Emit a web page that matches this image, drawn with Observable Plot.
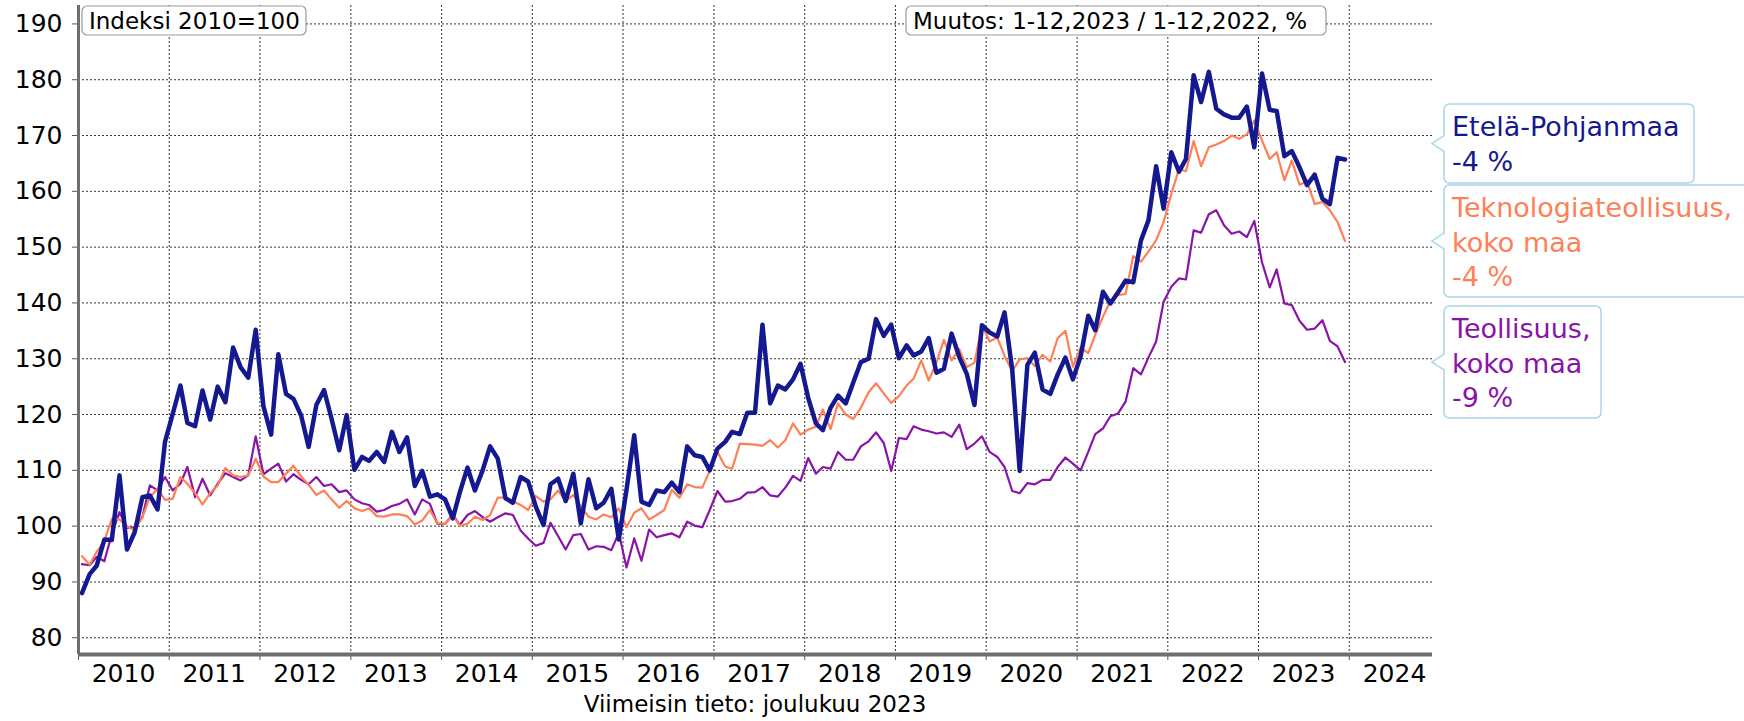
<!DOCTYPE html>
<html><head><meta charset="utf-8">
<script src="https://cdn.jsdelivr.net/npm/d3@7"></script>
<script src="https://cdn.jsdelivr.net/npm/@observablehq/plot@0.6"></script>
<style>
body{margin:0;background:#fff;font-family:"DejaVu Sans",Verdana,sans-serif}
#chart svg{display:block}
</style>
</head><body><div id="chart"></div><script>
// ---- data (monthly index, 2010 = 100), Jan 2010 .. Dec 2023 ----
const startYear = 2010;
const etelaPohjanmaa = [
  88.0, 91.4, 92.9, 97.6, 97.5, 109.1, 95.8, 98.9, 105.2, 105.5, 103.0, 115.1,
  120.1, 125.2, 118.5, 117.9, 124.3, 119.1, 125.0, 122.2, 132.0, 128.5, 126.6, 135.2,
  121.5, 116.4, 130.8, 123.7, 122.8, 119.8, 114.2, 121.7, 124.4, 119.3, 113.6, 119.9,
  110.1, 112.4, 111.7, 113.3, 111.5, 116.9, 113.3, 115.9, 107.2, 109.9, 105.3, 105.7,
  104.8, 101.4, 106.0, 110.5, 106.4, 110.0, 114.3, 112.1, 105.0, 104.2, 108.8, 108.0,
  103.5, 100.2, 107.5, 108.5, 104.5, 109.4, 100.5, 108.4, 103.2, 104.2, 106.7, 97.6,
  106.5, 116.3, 104.4, 103.8, 106.4, 106.1, 107.8, 106.1, 114.3, 112.7, 112.4, 110.0,
  113.9, 115.1, 116.9, 116.5, 120.3, 120.3, 136.1, 122.0, 125.2, 124.5, 126.3, 129.1,
  123.0, 118.4, 117.2, 121.2, 123.4, 122.0, 125.7, 129.4, 130.0, 137.1, 134.1, 136.1,
  130.1, 132.4, 130.6, 131.3, 133.7, 127.5, 128.2, 134.5, 130.3, 127.3, 121.7, 136.0,
  134.7, 134.0, 138.3, 128.0, 109.9, 128.9, 131.1, 124.5, 123.7, 127.2, 130.2, 126.3,
  130.4, 137.7, 135.1, 142.0, 139.9, 141.9, 144.0, 143.7, 151.2, 154.8, 164.5, 156.9,
  167.0, 163.5, 165.8, 180.8, 176.0, 181.4, 174.8, 173.8, 173.2, 173.2, 175.2, 167.9,
  181.1, 174.6, 174.4, 166.3, 167.2, 164.3, 161.1, 163.0, 158.7, 157.7, 166.0, 165.7
];
const teknologiateollisuus = [
  94.6, 93.1, 95.4, 97.3, 101.3, 101.2, 99.9, 99.3, 101.6, 105.2, 106.7, 104.7,
  104.9, 108.8, 107.6, 105.9, 103.9, 105.9, 107.3, 110.4, 109.1, 108.8, 109.1, 112.1,
  108.9, 107.9, 107.9, 109.4, 110.8, 108.9, 107.4, 105.6, 106.4, 104.8, 103.3, 104.5,
  103.2, 102.7, 103.2, 101.8, 101.7, 102.1, 102.1, 101.8, 100.3, 101.0, 102.9, 100.5,
  100.4, 102.0, 100.1, 100.4, 101.7, 101.1, 102.0, 105.1, 105.1, 104.5, 103.8, 102.9,
  105.4, 104.4, 104.8, 106.4, 104.5, 105.6, 103.6, 101.7, 101.2, 102.1, 101.6, 103.2,
  99.8, 102.4, 103.2, 101.2, 102.0, 102.9, 106.5, 105.1, 107.5, 107.0, 106.9, 109.9,
  113.3, 110.7, 110.3, 114.8, 114.7, 114.6, 114.4, 115.4, 114.1, 115.4, 118.4, 116.4,
  117.3, 117.8, 120.9, 117.4, 122.0, 120.0, 119.2, 121.2, 124.0, 125.6, 123.8, 122.1,
  123.3, 125.2, 126.4, 129.7, 126.1, 129.3, 133.4, 129.7, 131.7, 128.5, 129.3, 136.0,
  133.1, 133.8, 130.5, 127.8, 129.9, 130.1, 128.7, 130.7, 129.5, 133.7, 135.0, 128.6,
  132.0, 131.0, 134.3, 137.5, 140.4, 141.4, 141.6, 148.4, 147.4, 149.2, 151.2, 154.5,
  159.5, 164.0, 163.6, 169.0, 164.5, 167.9, 168.4, 169.0, 170.0, 169.4, 170.2, 172.7,
  169.1, 165.8, 167.0, 162.0, 165.5, 161.2, 161.8, 157.7, 158.1, 156.6, 154.5, 151.1
];
const teollisuus = [
  93.2, 93.0, 94.5, 93.7, 98.6, 102.5, 99.7, 99.8, 101.6, 107.3, 106.4, 108.8,
  106.4, 107.6, 110.6, 105.2, 108.5, 105.5, 107.6, 109.5, 108.8, 108.2, 109.1, 116.1,
  109.3, 110.3, 111.2, 108.0, 109.3, 108.3, 107.5, 108.8, 107.2, 107.5, 106.1, 106.4,
  104.8, 104.1, 103.8, 102.6, 102.9, 103.6, 104.0, 104.8, 102.1, 104.8, 104.0, 100.4,
  100.4, 102.1, 100.2, 102.0, 102.7, 101.6, 100.8, 101.6, 102.3, 102.0, 99.2, 97.8,
  96.5, 97.0, 100.6, 98.2, 95.8, 98.4, 98.6, 95.8, 96.4, 96.3, 95.7, 98.8,
  92.6, 97.8, 93.8, 99.4, 98.0, 98.4, 98.7, 98.0, 100.8, 100.1, 99.8, 102.9,
  106.3, 104.4, 104.5, 104.9, 106.0, 106.1, 107.0, 105.5, 105.3, 106.9, 109.0, 108.1,
  112.2, 109.4, 110.6, 110.3, 113.3, 111.9, 111.9, 114.3, 115.2, 116.8, 114.9, 109.9,
  115.8, 115.6, 117.9, 117.3, 117.0, 116.6, 116.8, 116.0, 118.2, 113.8, 114.8, 116.1,
  113.3, 112.4, 110.6, 106.3, 105.9, 107.7, 107.5, 108.3, 108.3, 110.6, 112.3, 111.2,
  110.0, 113.3, 116.5, 117.5, 119.7, 120.2, 122.3, 128.3, 127.2, 130.2, 133.1, 140.2,
  142.9, 144.4, 144.2, 153.0, 152.6, 155.9, 156.6, 153.9, 152.4, 152.8, 151.8, 154.7,
  147.3, 142.8, 146.0, 139.9, 139.6, 136.8, 135.2, 135.4, 136.9, 133.2, 132.2, 129.4
];
const yearLabels = [2010, 2011, 2012, 2013, 2014, 2015, 2016, 2017, 2018, 2019, 2020, 2021, 2022, 2023, 2024];
const yTicks = [80, 90, 100, 110, 120, 130, 140, 150, 160, 170, 180, 190];
const seriesNames = ["Etelä-Pohjanmaa", "Teknologiateollisuus, koko maa", "Teollisuus, koko maa"];
const seriesColors = ["#15198f", "#ff7f56", "#8a14a8"];
const legendLines = [
  ["Etelä-Pohjanmaa", "-4 %"],
  ["Teknologiateollisuus,", "koko maa", "-4 %"],
  ["Teollisuus,", "koko maa", "-9 %"]
];
const boxIndex = "Indeksi 2010=100";
const boxChange = "Muutos: 1-12,2023 / 1-12,2022, %";
const caption = "Viimeisin tieto: joulukuu 2023";

// ---- table for Plot ----
const allSeries = [etelaPohjanmaa, teknologiateollisuus, teollisuus];
const rows = [];
allSeries.forEach((vals, s) => vals.forEach((v, i) => rows.push({
  date: new Date(Date.UTC(startYear, i, 15)), value: v, series: seriesNames[s]
})));
const yearStarts = yearLabels.map(y => new Date(Date.UTC(y, 0, 1)));
const yearMids = yearLabels.map(y => new Date(Date.UTC(y, 6, 1)));
const xDomain = [new Date(Date.UTC(startYear, 0, 1)), new Date(Date.UTC(2024, 11, 1))];
const yDomain = [77, 193.3];

const W = 1744, H = 721, mL = 78, mR = 312, mT = 5, mB = 67;
const font = '"DejaVu Sans", Verdana, sans-serif';

const plot = Plot.plot({
  width: W, height: H,
  marginLeft: mL, marginRight: mR, marginTop: mT, marginBottom: mB,
  style: {fontFamily: font, fontSize: "25px", color: "#000", background: "#fff", overflow: "visible"},
  x: {type: "utc", domain: xDomain},
  y: {domain: yDomain},
  marks: [
    Plot.gridY(yTicks, {stroke: "#000", strokeOpacity: 0.8, strokeDasharray: "2,2", strokeWidth: 1}),
    Plot.gridX(yearStarts.slice(1), {stroke: "#000", strokeOpacity: 0.8, strokeDasharray: "2,2", strokeWidth: 1}),
    Plot.line(rows.filter(d => d.series === seriesNames[2]), {x: "date", y: "value", stroke: seriesColors[2], strokeWidth: 2.2}),
    Plot.line(rows.filter(d => d.series === seriesNames[1]), {x: "date", y: "value", stroke: seriesColors[1], strokeWidth: 2.2}),
    Plot.line(rows.filter(d => d.series === seriesNames[0]), {x: "date", y: "value", stroke: seriesColors[0], strokeWidth: 4.5}),
    Plot.axisY(yTicks, {label: null, tickSize: 6, tickPadding: 10, fontSize: 25, stroke: "#555"}),
    Plot.axisX(yearStarts, {label: null, tickSize: 6, tickFormat: () => "", stroke: "#555"}),
    Plot.axisX(yearMids, {label: null, tickSize: 0, tickPadding: 10, fontSize: 25, tickFormat: d => String(d.getUTCFullYear())}),
    Plot.ruleX([xDomain[0]], {stroke: "#6e6e6e", strokeWidth: 3}),
    Plot.ruleY([yDomain[0]], {stroke: "#6e6e6e", strokeWidth: 4})
  ]
});
document.getElementById("chart").appendChild(plot);

// ---- annotation boxes ----
const svg = d3.select(plot);
const ann = svg.append("g").attr("text-anchor", "start");
function topBox(x, w, txt) {
  const g = ann.append("g");
  g.append("rect").attr("x", x).attr("y", 6).attr("width", w).attr("height", 29).attr("rx", 5)
    .attr("fill", "#fff").attr("stroke", "#999").attr("stroke-width", 1.2);
  g.append("text").attr("x", x + 7).attr("y", 28.5).attr("text-anchor", "start")
    .attr("font-family", font).attr("font-size", 23).attr("fill", "#000").text(txt);
}
topBox(82, 224, boxIndex);
topBox(906, 420, boxChange);

const lx = 1444, tip = 1432;
const boxes = [
  {y0: 104, y1: 183, w: 250},
  {y0: 185, y1: 297, w: 320},
  {y0: 306, y1: 418, w: 157}
];
boxes.forEach((b, i) => {
  const cy = (b.y0 + b.y1) / 2, r = 6, x1 = lx + b.w;
  const p = `M${lx + r},${b.y0} H${x1 - r} Q${x1},${b.y0} ${x1},${b.y0 + r} V${b.y1 - r} Q${x1},${b.y1} ${x1 - r},${b.y1} H${lx + r} Q${lx},${b.y1} ${lx},${b.y1 - r} V${cy + 8} L${tip},${cy} L${lx},${cy - 8} V${b.y0 + r} Q${lx},${b.y0} ${lx + r},${b.y0} Z`;
  ann.append("path").attr("d", p).attr("fill", "#fff").attr("stroke", "#a8d6e6").attr("stroke-width", 1.5);
  legendLines[i].forEach((line, j) => {
    ann.append("text").attr("x", lx + 8).attr("y", b.y0 + 32 + j * 34.5).attr("text-anchor", "start")
      .attr("font-family", font).attr("font-size", 27).attr("fill", seriesColors[i]).text(line);
  });
});

ann.append("text").attr("x", (mL + W - mR) / 2).attr("y", 712).attr("text-anchor", "middle")
  .attr("font-family", font).attr("font-size", 23).attr("fill", "#000").text(caption);
</script></body></html>
